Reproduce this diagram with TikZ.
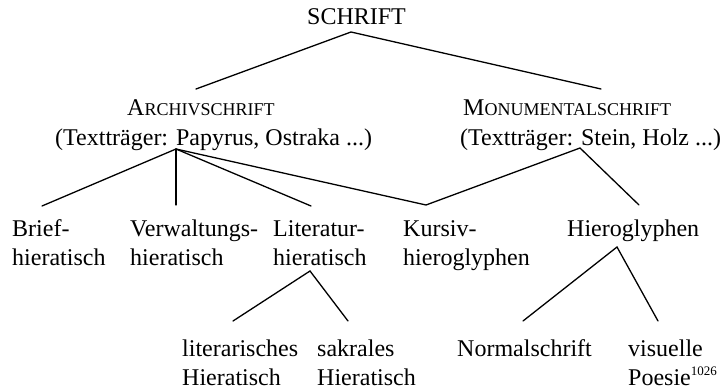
\documentclass[tikz,border=0pt]{standalone}
\usepackage{fontspec}
\setmainfont{Liberation Serif}
\usetikzlibrary{positioning}
\newcommand{\kapit}[2]{#1{\fontsize{18}{29}\selectfont #2}}
\newcommand{\hochzahl}[1]{\raisebox{10pt}{\fontsize{13}{13}\selectfont #1}}

\begin{document}
\begin{tikzpicture}[
  x=1pt, y=-1pt,
  font=\fontsize{24}{29}\selectfont,
  lbl/.style={anchor=base west, inner sep=0pt, align=left},
  ast/.style={line width=1.3pt, line cap=round}
]
\useasboundingbox (0,0) rectangle (722,390);

% Wurzel und erste Ebene
\node[lbl] (schrift) at (307,25) {SCHRIFT};
\node[lbl] (archiv) at (127,116) {\kapit{A}{RCHIVSCHRIFT}};
\node[lbl] (archivtt) at (55,146) {(Textträger: Papyrus, Ostraka ...)};
\node[lbl] (monu) at (463,116) {\kapit{M}{ONUMENTALSCHRIFT}};
\node[lbl] (monutt) at (460,146) {(Textträger: Stein, Holz ...)};

% zweite Ebene (Basis = letzte Zeile)
\node[lbl] (brief) at (12,265) {Brief-\\hieratisch};
\node[lbl] (verw) at (130,265) {Verwaltungs-\\hieratisch};
\node[lbl] (litt) at (273,265) {Literatur-\\hieratisch};
\node[lbl] (kursiv) at (403,265) {Kursiv-\\hieroglyphen};
\node[lbl] (hiero) at (567,236) {Hieroglyphen};

% dritte Ebene
\node[lbl] (litera) at (182,385) {literarisches\\Hieratisch};
\node[lbl] (sakral) at (317,385) {sakrales\\Hieratisch};
\node[lbl] (normal) at (457,356) {Normalschrift};
\node[lbl] (visuell) at (628,385) {visuelle\\Poesie\hochzahl{1026}};

% Verzweigungspunkte
\coordinate (schrift-f) at (351,32);
\coordinate (archiv-k) at (196,89);
\coordinate (monu-k) at (601,89);
\coordinate (archiv-f) at (176,149);
\coordinate (monu-f) at (580,148);
\coordinate (brief-k) at (42,206);
\coordinate (verw-k) at (176,205);
\coordinate (litt-k) at (311,206);
\coordinate (kursiv-k) at (426,205);
\coordinate (hiero-k) at (639,205);
\coordinate (litt-f) at (310,271);
\coordinate (hiero-f) at (617,247);
\coordinate (litera-k) at (233,321);
\coordinate (sakral-k) at (348,321);
\coordinate (normal-k) at (523,321);
\coordinate (visuell-k) at (658,321);

\draw[ast] (archiv-k)--(schrift-f)--(monu-k);
\draw[ast] (archiv-f)--(brief-k);
\draw[ast] (archiv-f)--(verw-k);
\draw[ast] (archiv-f)--(litt-k);
\draw[ast] (archiv-f)--(kursiv-k)--(monu-f)--(hiero-k);
\draw[ast] (litera-k)--(litt-f)--(sakral-k);
\draw[ast] (normal-k)--(hiero-f)--(visuell-k);
\end{tikzpicture}
\end{document}
